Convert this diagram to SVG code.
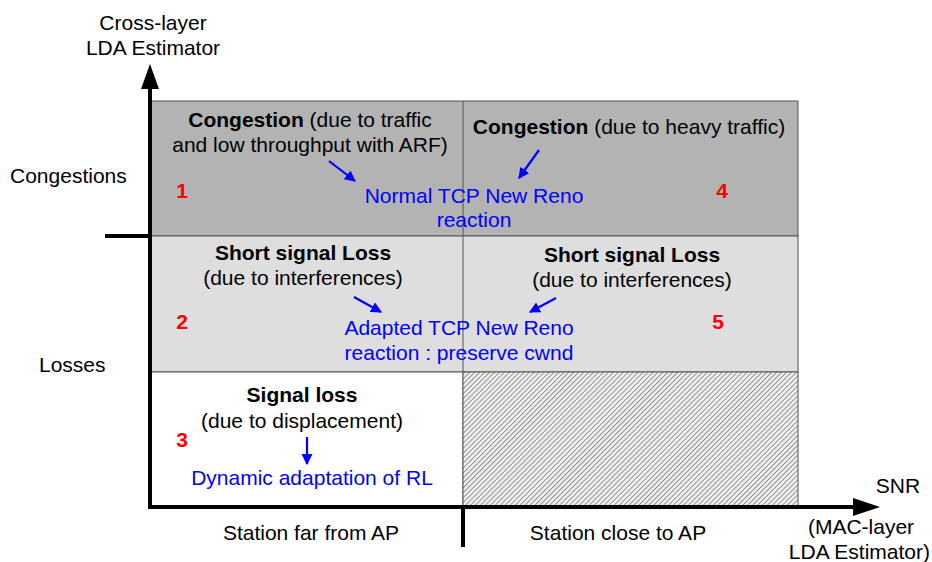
<svg xmlns="http://www.w3.org/2000/svg" width="932" height="562" viewBox="0 0 932 562">
  <style>
    text { font-family: "Liberation Sans", Arial, sans-serif; font-size: 21px; fill: #000; }
    .b { font-weight: bold; }
    .blue { fill: #0000ff; }
    .num { fill: #ff0000; font-weight: bold; }
    .cell { stroke: #555; stroke-width: 1; }
    .axis { stroke: #000; stroke-width: 4; fill: none; }
    .ptr { stroke: #0000ff; stroke-width: 2.2; fill: none; marker-end: url(#bluehead); }
  </style>
  <defs>
    <marker id="bluehead" viewBox="0 0 10 10" refX="9" refY="5" markerWidth="5" markerHeight="5" orient="auto" markerUnits="strokeWidth">
      <path d="M0,0 L10,5 L0,10 z" fill="#0000ff"/>
    </marker>
    <pattern id="hatch" width="3.5" height="3.5" patternUnits="userSpaceOnUse" patternTransform="rotate(45)">
      <rect width="3.5" height="3.5" fill="#eeeeee"/>
      <line x1="0" y1="0" x2="0" y2="3.5" stroke="#7a7a7a" stroke-width="1.5"/>
    </pattern>
  </defs>

  <!-- regions -->
  <g id="region-1-4">
    <rect class="cell" x="151" y="101" width="647" height="135" fill="#b3b3b3"/>
  </g>
  <g id="region-2-5">
    <rect class="cell" x="151" y="236" width="647" height="136" fill="#dedede"/>
  </g>
  <g id="region-3">
    <rect class="cell" x="151" y="372" width="312" height="135" fill="#ffffff"/>
  </g>
  <g id="region-hatched">
    <rect class="cell" x="463" y="372" width="335" height="135" fill="url(#hatch)"/>
  </g>
  <line x1="463" y1="101" x2="463" y2="372" stroke="#555" stroke-width="1"/>

  <!-- axes -->
  <g id="axes">
    <line class="axis" x1="150" y1="509" x2="150" y2="86"/>
    <path d="M141,89 L150,64 L159,89 z" fill="#000"/>
    <line class="axis" x1="148" y1="507" x2="856" y2="507"/>
    <path d="M853,498 L880,507 L853,516 z" fill="#000"/>
    <line class="axis" x1="105" y1="236" x2="150" y2="236"/>
    <line class="axis" x1="463" y1="507" x2="463" y2="547"/>
  </g>

  <!-- axis labels -->
  <g id="axis-labels">
    <text x="153" y="30" text-anchor="middle">Cross-layer</text>
    <text x="153" y="55" text-anchor="middle">LDA Estimator</text>
    <text x="10" y="183">Congestions</text>
    <text x="39" y="372">Losses</text>
    <text x="898" y="493" text-anchor="middle">SNR</text>
    <text x="861" y="534" text-anchor="middle">(MAC-layer</text>
    <text x="930" y="559" text-anchor="end">LDA Estimator)</text>
    <text x="311" y="540" text-anchor="middle">Station far from AP</text>
    <text x="618" y="540" text-anchor="middle">Station close to AP</text>
  </g>

  <!-- region texts -->
  <g id="cell-1">
    <text x="310" y="127" text-anchor="middle"><tspan class="b">Congestion</tspan> (due to traffic</text>
    <text x="310" y="152" text-anchor="middle">and low throughput with ARF)</text>
    <text class="num" x="182" y="198" text-anchor="middle">1</text>
  </g>
  <g id="cell-4">
    <text x="629" y="134" text-anchor="middle"><tspan class="b">Congestion</tspan> (due to heavy traffic)</text>
    <text class="num" x="722" y="198" text-anchor="middle">4</text>
  </g>
  <g id="reaction-normal">
    <text class="blue" x="474" y="203" text-anchor="middle">Normal TCP New Reno</text>
    <text class="blue" x="474" y="227" text-anchor="middle">reaction</text>
  </g>
  <g id="cell-2">
    <text class="b" x="303" y="260" text-anchor="middle">Short signal Loss</text>
    <text x="303" y="285" text-anchor="middle">(due to interferences)</text>
    <text class="num" x="182" y="329" text-anchor="middle">2</text>
  </g>
  <g id="cell-5">
    <text class="b" x="632" y="262" text-anchor="middle">Short signal Loss</text>
    <text x="632" y="287" text-anchor="middle">(due to interferences)</text>
    <text class="num" x="718" y="329" text-anchor="middle">5</text>
  </g>
  <g id="reaction-adapted">
    <text class="blue" x="459" y="335" text-anchor="middle">Adapted TCP New Reno</text>
    <text class="blue" x="459" y="360" text-anchor="middle">reaction : preserve cwnd</text>
  </g>
  <g id="cell-3">
    <text class="b" x="302" y="402" text-anchor="middle">Signal loss</text>
    <text x="302" y="428" text-anchor="middle">(due to displacement)</text>
    <text class="num" x="182" y="447" text-anchor="middle">3</text>
    <text class="blue" x="312" y="485" text-anchor="middle">Dynamic adaptation of RL</text>
  </g>

  <!-- pointers -->
  <g id="connectors">
    <line class="ptr" x1="329" y1="161" x2="355" y2="181"/>
    <line class="ptr" x1="539" y1="150" x2="519" y2="178"/>
    <line class="ptr" x1="354" y1="297" x2="381" y2="312"/>
    <line class="ptr" x1="556" y1="298" x2="530" y2="312"/>
    <line class="ptr" x1="307" y1="437" x2="307" y2="464"/>
  </g>
</svg>
